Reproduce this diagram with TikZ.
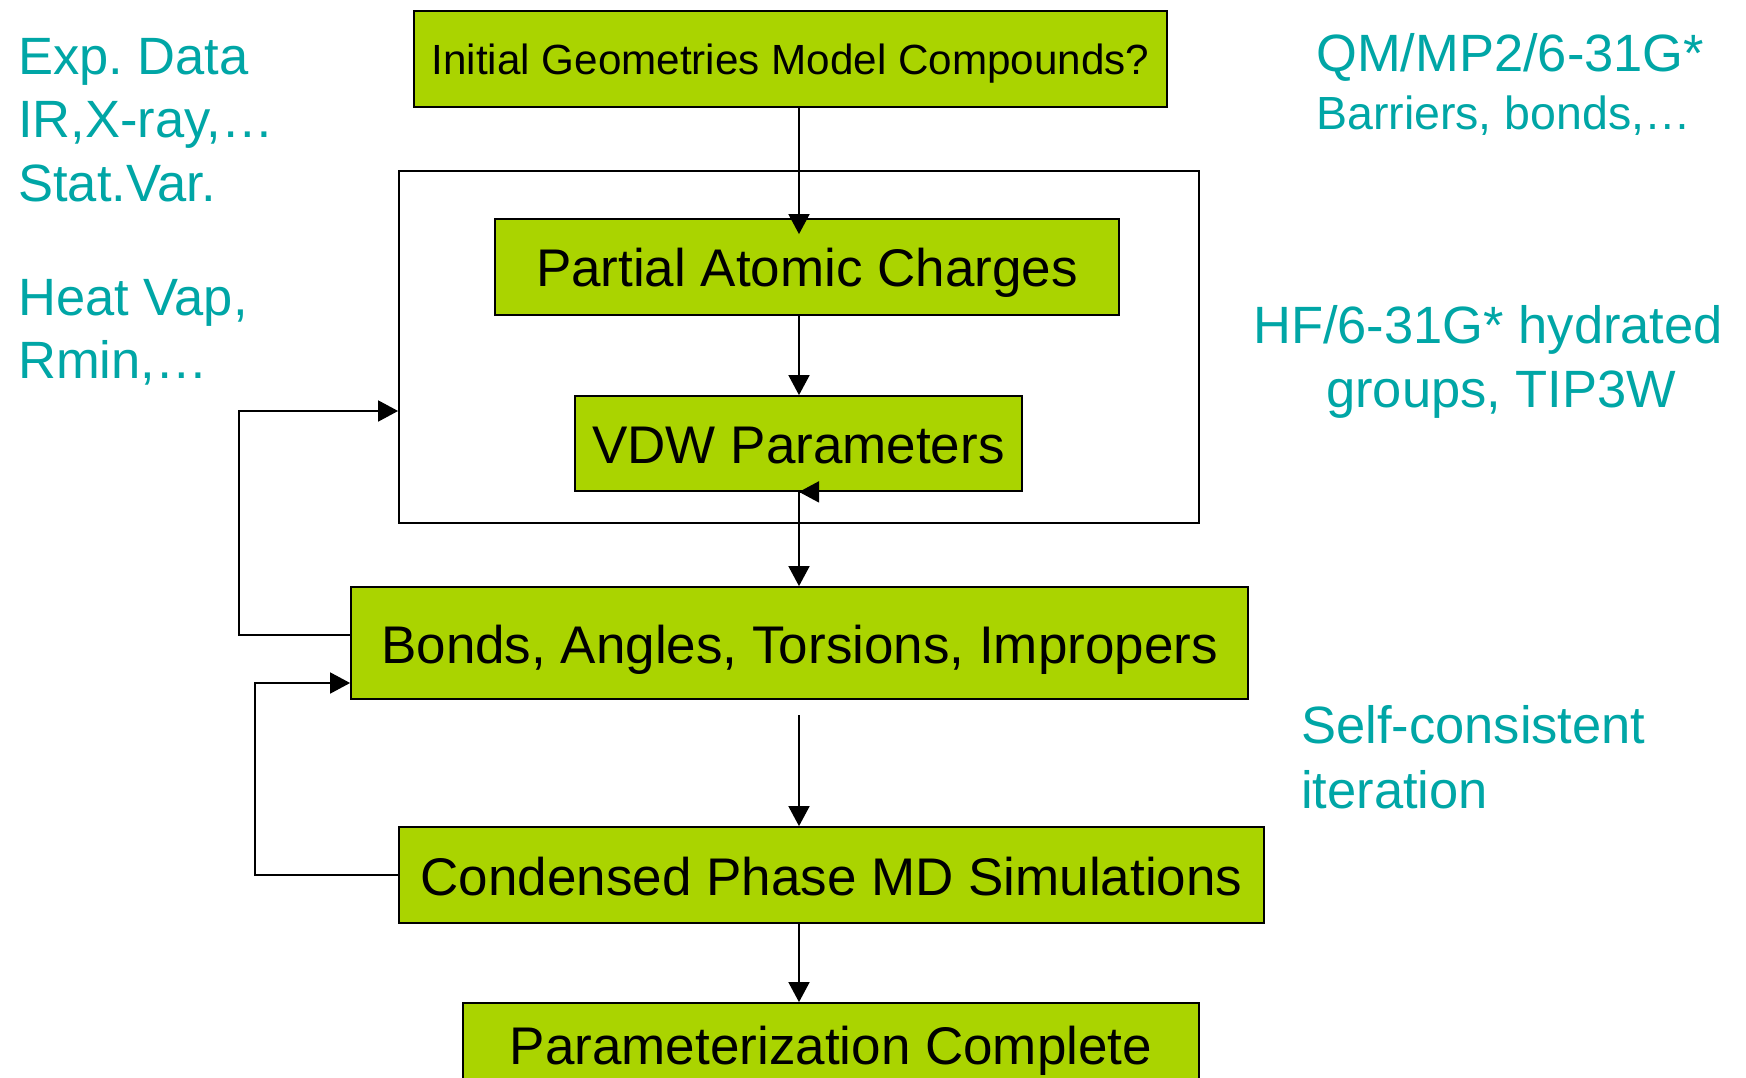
\documentclass[tikz,border=0pt]{standalone}
\usepackage{fontspec}
\setmainfont{Liberation Sans}
\usetikzlibrary{arrows.meta}
\definecolor{boxgreen}{RGB}{170,212,0}
\definecolor{sideteal}{RGB}{0,166,166}
\frenchspacing
\begin{document}
\begin{tikzpicture}[x=1pt,y=-1pt,
  box/.style={draw=black, line width=1.8pt, fill=boxgreen, rectangle, inner sep=0pt,
    text height=40pt, text depth=0pt, font=\fontsize{53}{64}\selectfont},
  arr/.style={line width=1.8pt, -{Triangle[length=20pt,width=21pt]}},
  side/.style={text=sideteal, anchor=base west, inner sep=0pt, font=\fontsize{52.5}{64}\selectfont}]
\useasboundingbox (0,0) rectangle (1746,1078);
\fill[white] (0,0) rectangle (1746,1078);

% frame
\node[draw=black, line width=1.8pt, minimum width=800pt, minimum height=352pt, inner sep=0pt] (frame) at (799,347) {};

% boxes
\node[box, minimum width=753pt, minimum height=96pt, text height=32pt, font=\fontsize{42.2}{50}\selectfont] (init) at (790.5,59) {Initial Geometries Model Compounds?};
\node[box, minimum width=624pt, minimum height=96pt] (partial) at (807,267) {Partial Atomic Charges};
\node[box, minimum width=447pt, minimum height=95pt] (vdw) at (798.5,443.5) {VDW Parameters};
\node[box, minimum width=897pt, minimum height=112pt] (bonds) at (799.5,643) {Bonds, Angles, Torsions, Impropers};
\node[box, minimum width=865pt, minimum height=96pt] (cond) at (831.5,875) {Condensed Phase MD Simulations};
\node[box, minimum width=736pt, minimum height=82pt] (param) at (831,1044) {Parameterization Complete};

% main spine
\coordinate (cx) at (799,0);
\coordinate (ptop) at (partial.north -| cx);
\draw[arr] (init.south -| cx) -- ([yshift=-16pt]ptop);
\draw[arr] (partial.south -| cx) -- (vdw.north -| cx);
\draw[arr] (vdw.south -| cx) -- (bonds.north -| cx);
\coordinate (vt) at (vdw.south -| cx);
\draw[arr] ([xshift=1pt]vt) -- (vt);
\coordinate (cstart) at (799,715);
\draw[arr] (cstart) -- (cond.north -| cx);
\draw[arr] (cond.south -| cx) -- (param.north -| cx);

% feedback loops
\coordinate (l1a) at (239,635);
\coordinate (l1b) at (239,411);
\draw[arr] (bonds.west |- l1a) -- (l1a) -- (l1b) -- (frame.west |- l1b);
\coordinate (l2a) at (255,875);
\coordinate (l2b) at (255,683);
\draw[arr] (cond.west |- l2a) -- (l2a) -- (l2b) -- (bonds.west |- l2b);

% side texts
\node[side] (exp1) at (18,75) {Exp. Data};
\node[side] (exp2) at (18,138) {IR,X-ray,…};
\node[side] (exp3) at (18,202) {Stat.Var.};
\node[side] (heat1) at (18,315) {Heat Vap,};
\node[side] (heat2) at (18,378) {Rmin,…};
\node[side] (qm1) at (1316,72) {QM/MP2/6-31G*};
\node[side, font=\fontsize{46.5}{56}\selectfont] (qm2) at (1316,130) {Barriers, bonds,…};
\node[side] (hf1) at (1253,343) {HF/6-31G* hydrated};
\node[side] (hf2) at (1326,407) {groups, TIP3W};
\node[side] (sc1) at (1301,743) {Self-consistent};
\node[side] (sc2) at (1301,808) {iteration};
\end{tikzpicture}
\end{document}
